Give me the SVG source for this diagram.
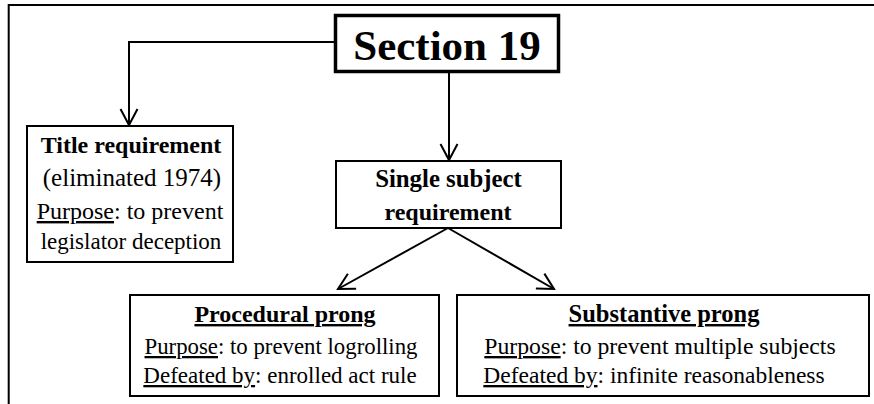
<svg xmlns="http://www.w3.org/2000/svg" width="874" height="404" viewBox="0 0 874 404">
<defs>
<style>
.box{fill:#fff;stroke:#000;stroke-width:2}
.big{fill:#fff;stroke:#000;stroke-width:3.5}
.t{font-family:"Liberation Serif","Times New Roman",serif;font-size:24px;fill:#000;text-anchor:middle}
.b{font-weight:bold}
.u{text-decoration:underline}
.c{fill:none;stroke:#000;stroke-width:2}
</style>
<marker id="ah" markerUnits="userSpaceOnUse" markerWidth="24" markerHeight="24" viewBox="-18 -12 20 24" refX="0" refY="0" orient="auto">
<path d="M-16,-8.5 L0,0 L-16,8.5" fill="none" stroke="#000" stroke-width="2"/>
</marker>
</defs>
<rect width="874" height="404" fill="#fff"/>
<g id="frame">
<path d="M8.7,404 V5 H874" fill="none" stroke="#000" stroke-width="2"/>
</g>
<g id="connectors">
<path class="c" d="M335,42 H129 V125" marker-end="url(#ah)"/>
<path class="c" d="M449,72 V160" marker-end="url(#ah)"/>
<path class="c" d="M448,228 L338,289" marker-end="url(#ah)"/>
<path class="c" d="M448,228 L554,289" marker-end="url(#ah)"/>
</g>
<g id="section19">
<rect class="big" x="335.5" y="15.5" width="223" height="56"/>
<text class="t b" x="447" y="60" style="font-size:43px">Section 19</text>
</g>
<g id="title">
<rect class="box" x="27" y="126" width="206" height="136"/>
<text class="t b" x="131" y="153">Title requirement</text>
<text class="t" x="132" y="186" style="font-size:25px">(eliminated 1974)</text>
<text class="t" x="130" y="219"><tspan class="u">Purpose</tspan>: to prevent</text>
<text class="t" x="131" y="249" style="font-size:23px">legislator deception</text>
</g>
<g id="single">
<rect class="box" x="336" y="161" width="225" height="67"/>
<text class="t b" x="448.5" y="187" style="font-size:24.8px">Single subject</text>
<text class="t b" x="448" y="220">requirement</text>
</g>
<g id="procedural">
<rect class="box" x="130" y="295" width="309" height="101"/>
<text class="t b" x="285" y="322"><tspan class="u">Procedural prong</tspan></text>
<text class="t" x="281" y="354" style="font-size:22.8px"><tspan class="u">Purpose</tspan>: to prevent logrolling</text>
<text class="t" x="280" y="383" style="font-size:23px"><tspan class="u">Defeated by</tspan>: enrolled act rule</text>
</g>
<g id="substantive">
<rect class="box" x="457" y="295" width="412" height="101"/>
<text class="t b" x="664" y="322" style="font-size:24.5px"><tspan class="u">Substantive prong</tspan></text>
<text class="t" x="660" y="354" style="font-size:23.7px"><tspan class="u">Purpose</tspan>: to prevent multiple subjects</text>
<text class="t" x="654" y="383" style="font-size:23.5px"><tspan class="u">Defeated by</tspan>: infinite reasonableness</text>
</g>
</svg>
